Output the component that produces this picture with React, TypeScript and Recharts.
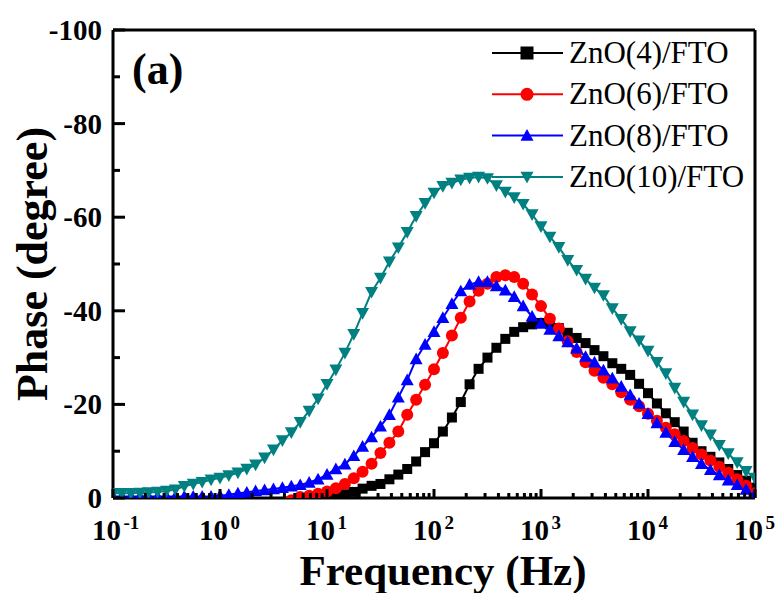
import React from 'react';
import { LineChart, Line, XAxis, YAxis, ReferenceLine } from 'recharts';

// frequency sweep (Hz), 12 points per decade
const frequency = [
  0.1, 0.121, 0.147, 0.178, 0.215, 0.261, 0.316, 0.383, 0.464, 0.562, 0.681, 0.825,
  1, 1.21, 1.47, 1.78, 2.15, 2.61, 3.16, 3.83, 4.64, 5.62, 6.81, 8.25,
  10, 12.1, 14.7, 17.8, 21.5, 26.1, 31.6, 38.3, 46.4, 56.2, 68.1, 82.5,
  100, 121, 147, 178, 215, 261, 316, 383, 464, 562, 681, 825,
  1000, 1211, 1468, 1778, 2154, 2610, 3162, 3831, 4642, 5623, 6813, 8254,
  10000, 12115, 14678, 17783, 21544, 26102, 31623, 38312, 46416, 56234, 68129, 82540,
  100000,
];

// phase (degree)
const zno4 = [
  1.5, 1.5, 1.5, 1.5, 1.5, 1.5, 1.5, 1.5, 1.5, 1.5, 1.5, 1.5,
  1.5, 1.5, 1.5, 1.5, 1.5, 1.5, 1.5, 1.5, 1.5, 1.5, 1.5, 1.5,
  -0.2, -0.4, -0.8, -1.3, -2.0, -2.6, -3.0, -4.0, -5.0, -6.2, -7.8, -9.8,
  -11.7, -14.2, -17.2, -20.5, -24.3, -27.6, -30.0, -32.1, -34.0, -35.5, -36.5, -37.1,
  -37.4, -37.1, -36.3, -35.3, -34.2, -33.1, -31.6, -30.3, -28.8, -27.6, -26.3, -24.4,
  -22.4, -20.2, -18.1, -16.2, -14.2, -11.8, -10.0, -8.8, -7.6, -6.2, -4.9, -3.7,
  -2.2,
];

const zno6 = [
  1.5, 1.5, 1.5, 1.5, 1.5, 1.5, 1.5, 1.5, 1.5, 1.5, 1.5, 1.5,
  1.5, 1.5, 1.5, 1.5, 1.5, 1.5, 1.5, 1.5, 0.5, -0.2, -0.5, -0.9,
  -1.4, -2.1, -3.0, -4.2, -5.6, -7.3, -9.6, -11.8, -14.2, -17.8, -21.0, -24.2,
  -27.5, -31.0, -34.7, -38.5, -42.0, -44.3, -45.8, -47.2, -47.6, -47.2, -45.8, -43.5,
  -41.0, -38.3, -36.2, -33.5, -31.2, -29.0, -27.2, -25.7, -24.3, -22.6, -21.0, -19.6,
  -18.0, -16.5, -15.0, -13.6, -12.2, -10.7, -9.3, -8.0, -6.7, -5.4, -4.0, -2.6,
  -1.0,
];

const zno8 = [
  -0.3, -0.3, -0.3, -0.3, -0.3, -0.3, -0.3, -0.3, -0.3, -0.3, -0.3, -0.3,
  -0.5, -0.7, -1.0, -1.2, -1.5, -1.7, -1.9, -2.2, -2.5, -2.8, -3.3, -4.0,
  -5.0, -6.2, -7.2, -9.0, -11.0, -13.0, -15.3, -17.8, -21.5, -25.2, -29.7, -32.8,
  -35.5, -38.5, -41.5, -44.2, -45.6, -46.2, -46.2, -45.3, -44.4, -43.0, -41.0, -38.8,
  -37.3, -36.0, -34.6, -33.3, -32.0, -30.2, -29.0, -27.3, -25.6, -23.8, -22.0, -20.2,
  -18.0, -16.0, -14.0, -12.0, -10.3, -8.8, -7.3, -6.0, -4.9, -3.8, -2.8, -1.8,
  -0.8,
];

const zno10 = [
  -1.0, -1.0, -1.0, -1.1, -1.2, -1.3, -1.5, -1.8, -2.5, -3.0, -3.4, -3.9,
  -4.3, -4.8, -5.4, -6.2, -7.1, -8.6, -10.3, -12.3, -14.0, -16.2, -18.6, -21.2,
  -24.3, -27.4, -31.0, -35.0, -39.5, -44.0, -47.0, -50.5, -53.5, -56.8, -60.2, -63.0,
  -65.2, -66.6, -67.3, -68.0, -68.4, -68.6, -68.3, -66.8, -65.4, -64.2, -62.8, -60.6,
  -58.0, -55.8, -53.6, -50.8, -48.7, -46.8, -44.9, -43.3, -40.5, -38.2, -35.6, -33.6,
  -31.4, -29.0, -26.6, -23.5, -20.5, -17.8, -15.5, -13.5, -11.3, -9.5, -7.6, -5.7,
  -4.3,
];

const seriesKeys = ['zno4', 'zno6', 'zno8', 'zno10'];
const seriesNames = ['ZnO(4)/FTO', 'ZnO(6)/FTO', 'ZnO(8)/FTO', 'ZnO(10)/FTO'];
const seriesColors = ['#000000', '#ff0000', '#0000ff', '#008080'];
const seriesShapes = ['square', 'circle', 'triangle', 'triangleDown'];

const xMajorTicks = [0.1, 1, 10, 100, 1000, 10000, 100000];
const xMinorSteps = [2, 3, 4, 5, 6, 7, 8, 9];
const yTicks = [-100, -90, -80, -70, -60, -50, -40, -30, -20, -10, 0];

const data = frequency.map((f, i) => ({
  f,
  zno4: zno4[i],
  zno6: zno6[i],
  zno8: zno8[i],
  zno10: zno10[i],
}));

const xTicks = xMajorTicks.flatMap((m, i) =>
  i === xMajorTicks.length - 1 ? [m] : [m, ...xMinorSteps.map((s) => m * s)]
);

const FONT = '"Liberation Serif", "Times New Roman", serif';

function Marker({ shape, cx, cy, color, size }: any) {
  const h = size / 2;
  if (shape === 'square') {
    return <rect x={cx - h} y={cy - h} width={size} height={size} fill={color} />;
  }
  if (shape === 'circle') {
    return <circle cx={cx} cy={cy} r={h} fill={color} />;
  }
  if (shape === 'triangle') {
    return (
      <polygon
        points={`${cx},${cy - h} ${cx + h},${cy + h * 0.8} ${cx - h},${cy + h * 0.8}`}
        fill={color}
      />
    );
  }
  return (
    <polygon
      points={`${cx},${cy + h} ${cx + h},${cy - h * 0.8} ${cx - h},${cy - h * 0.8}`}
      fill={color}
    />
  );
}

const markerSize = [10, 12, 13, 13];

function XTick({ x, y, payload }: any) {
  const v = payload.value;
  const major = xMajorTicks.includes(v);
  const exp = Math.round(Math.log10(v));
  return (
    <g>
      <line x1={x} x2={x} y1={y} y2={y - (major ? 9 : 5)} stroke="#000" strokeWidth={3} />
      {major && (
        <text x={x + 8} y={y + 42} textAnchor="end" fontFamily={FONT} fontWeight="bold" fontSize={29} fill="#000">
          10
        </text>
      )}
      {major && (
        <text x={x + 10.5} y={y + 31} textAnchor="start" fontFamily={FONT} fontWeight="bold" fontSize={19} fill="#000">
          {exp}
        </text>
      )}
    </g>
  );
}

function YTick({ x, y, payload }: any) {
  const v = payload.value;
  const major = v % 20 === 0;
  return (
    <g>
      <line x1={x} x2={x + (major ? 12 : 7)} y1={y} y2={y} stroke="#000" strokeWidth={3} />
      {major && (
        <text x={x - 11} y={y + 10} textAnchor="end" fontFamily={FONT} fontWeight="bold" fontSize={29} fill="#000">
          {String(v)}
        </text>
      )}
    </g>
  );
}

export default function App() {
  return (
    <div style={{ position: 'absolute', left: 0, top: 0, width: 781, height: 593, background: '#fff' }}>
      <LineChart width={781} height={593} data={data} margin={{ top: 30, right: 26, left: 13, bottom: 0 }}>
        <XAxis
          dataKey="f"
          type="number"
          scale="log"
          domain={[0.1, 100000]}
          allowDataOverflow
          ticks={xTicks}
          interval={0}
          height={95}
          tickSize={0}
          tickMargin={0}
          tickLine={false}
          axisLine={{ stroke: '#000', strokeWidth: 3 }}
          tick={<XTick />}
          label={({ viewBox }: any) => (
            <text
              x={viewBox.x + viewBox.width / 2 + 9}
              y={viewBox.y + 87}
              textAnchor="middle"
              fontFamily={FONT}
              fontWeight="bold"
              fontSize={43}
              fill="#000"
            >
              Frequency (Hz)
            </text>
          )}
        />
        <YAxis
          type="number"
          domain={[-100, 0]}
          reversed
          allowDataOverflow
          ticks={yTicks}
          interval={0}
          width={100}
          tickSize={0}
          tickMargin={0}
          tickLine={false}
          axisLine={{ stroke: '#000', strokeWidth: 3 }}
          tick={<YTick />}
          label={({ viewBox }: any) => (
            <text
              transform={`translate(${viewBox.x + 34}, ${viewBox.y + viewBox.height / 2}) rotate(-90)`}
              textAnchor="middle"
              fontFamily={FONT}
              fontWeight="bold"
              fontSize={44}
              fill="#000"
            >
              Phase (degree)
            </text>
          )}
        />
        <ReferenceLine y={-100} stroke="#000" strokeWidth={3} />
        <ReferenceLine x={100000} stroke="#000" strokeWidth={3} />
        {seriesKeys.map((k, i) => (
          <Line
            key={k}
            dataKey={k}
            name={seriesNames[i]}
            stroke={seriesColors[i]}
            strokeWidth={2}
            isAnimationActive={false}
            dot={(p: any) => (
              <Marker
                key={`${k}-${p.index}`}
                shape={seriesShapes[i]}
                cx={p.cx}
                cy={p.cy}
                color={seriesColors[i]}
                size={markerSize[i]}
              />
            )}
            activeDot={false}
          />
        ))}
      </LineChart>
      <svg width={781} height={593} style={{ position: 'absolute', left: 0, top: 0, pointerEvents: 'none' }}>
        <text x={132} y={84} fontFamily={FONT} fontWeight="bold" fontSize={44} fill="#000">
          (a)
        </text>
        {seriesNames.map((name, i) => {
          const cy = 53 + i * 41.3;
          return (
            <g key={name}>
              <line x1={492} x2={563} y1={cy} y2={cy} stroke={seriesColors[i]} strokeWidth={2} />
              <Marker shape={seriesShapes[i]} cx={527} cy={cy} color={seriesColors[i]} size={13} />
              <text x={569} y={cy + 10} fontFamily={FONT} fontSize={31} fill="#000">
                {name}
              </text>
            </g>
          );
        })}
      </svg>
    </div>
  );
}
